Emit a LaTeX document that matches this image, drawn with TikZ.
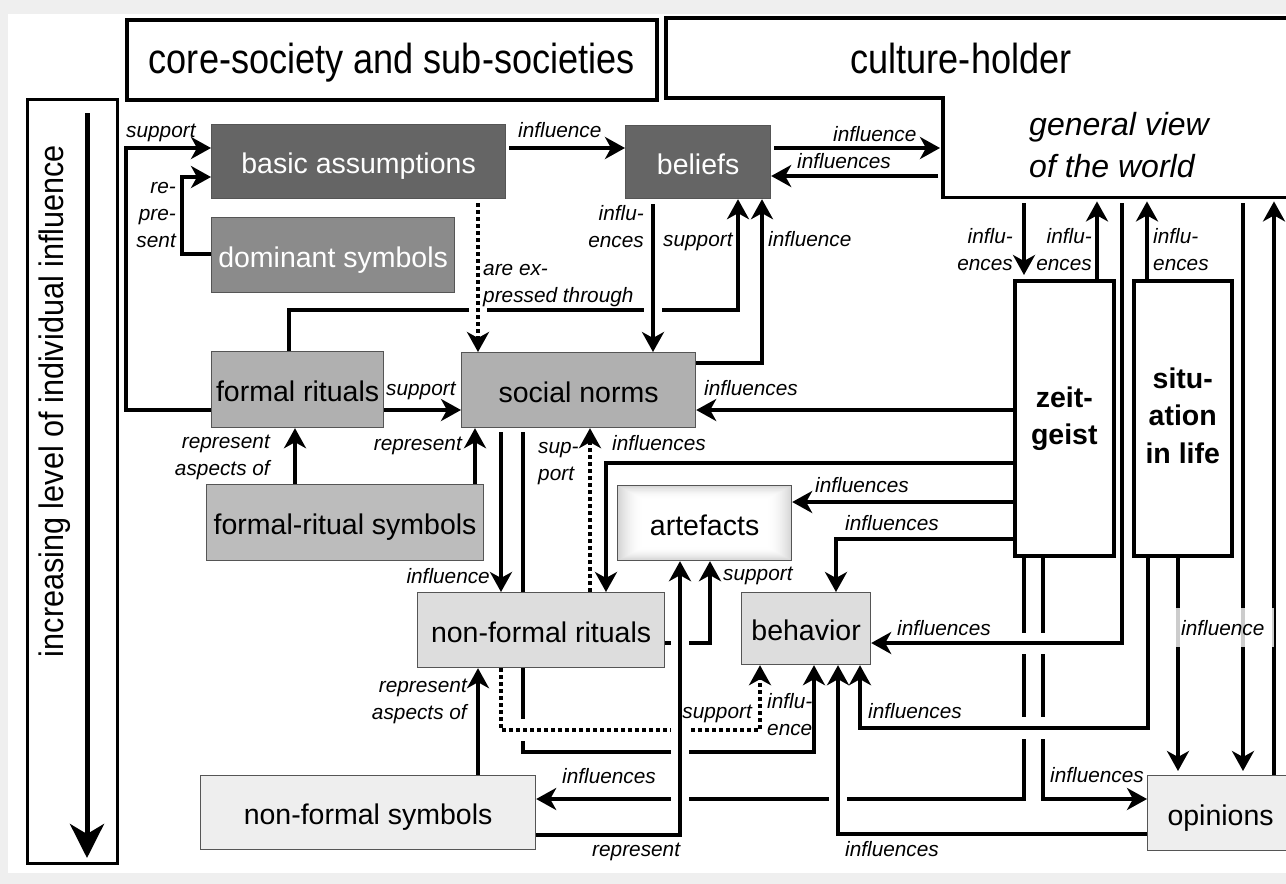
\documentclass[tikz,border=0pt]{standalone}
\usepackage{fontspec}
\usepackage{graphicx}
\setmainfont{Liberation Sans}
\usetikzlibrary{arrows.meta}
\definecolor{bgrey}{HTML}{EFEFEF}
\definecolor{dark}{HTML}{656565}
\definecolor{mid}{HTML}{8B8B8B}
\definecolor{lgt}{HTML}{B0B0B0}
\definecolor{lgt2}{HTML}{BCBCBC}
\definecolor{pale}{HTML}{DDDDDD}
\definecolor{paler}{HTML}{EEEEEE}
\definecolor{rim}{HTML}{555555}
\pgfdeclarelayer{bg}
\pgfdeclarelayer{conn}
\pgfsetlayers{bg,conn,main}
\begin{document}
\begin{tikzpicture}[x=1pt,y=-1pt,
  box/.style={draw=rim, line width=1.2pt, inner sep=0pt, anchor=north west,
    text height=24pt, text depth=0pt, font=\fontsize{28.5}{34}\selectfont},
  frame/.style={draw=black, line width=3.5pt, fill=white, inner sep=0pt, anchor=north west},
  lab/.style={inner sep=0pt, font=\fontsize{20.8}{27}\selectfont\itshape},
  ln/.style={line width=3.6pt},
  arr/.style={ln, -{Stealth[length=20pt,width=22pt,inset=6pt]}},
  darr/.style={arr, dash pattern=on 4pt off 3pt},
  bridge/.style={white, line width=7pt},
  glow/.style={path picture={
    \foreach \i in {0,...,26}{
      \pgfmathsetmacro\sh{17*(1-\i/26)^2}
      \fill[black!\sh] ([shift={(\i pt,-0.55*\i pt)}]path picture bounding box.north west)
        rectangle ([shift={(-\i pt,0.55*\i pt)}]path picture bounding box.south east);}}}
]
\useasboundingbox (0,0) rectangle (1286,884);

\begin{pgfonlayer}{bg}
  \fill[bgrey] (0,0) rectangle (1286,884);
  \fill[white] (8,14) rectangle (1286,873);
\end{pgfonlayer}

% ---------- headers ----------
\node[frame, minimum width=530pt, minimum height=80pt] (h1) at (125,18) {};
\node[anchor=base, inner sep=0pt, font=\fontsize{42}{46}\selectfont] (h1t) at (h1.center |- 0,73)
  {\scalebox{0.86}[1]{core-society and sub-societies}};
\node[inner sep=0pt, minimum width=347pt, minimum height=99pt, anchor=north west] (gv) at (943,98) {};
\draw[line width=3.5pt] (1290,18) -- (666,18) -- (666,98) -- (gv.north west) -- (gv.south west) -- (gv.south east);
\node[anchor=base, inner sep=0pt, font=\fontsize{42}{46}\selectfont] (h2t) at (961,73)
  {\scalebox{0.86}[1]{culture-holder}};
\node[anchor=north west, align=left, inner sep=0pt, font=\fontsize{32}{42}\selectfont\itshape] (gvt) at (1029,105.6)
  {\strut general view\\\strut of the world};

% ---------- level of influence ----------
\node[draw, line width=3pt, minimum width=90pt, minimum height=764pt, anchor=north west, inner sep=0pt] (lvl) at (26,98) {};
\coordinate (la) at (87,113);
\coordinate (lb) at (87,858);
\draw[line width=5pt, -{Stealth[length=34pt,width=34pt,inset=10pt]}] (la) -- (lb);
\node[rotate=90, anchor=base, inner sep=0pt, font=\fontsize{34}{38}\selectfont] (lvlt) at (63,401)
  {\scalebox{0.9}[1]{increasing level of individual influence}};

% ---------- boxes ----------
\node[box, fill=dark, text=white, minimum width=294pt, minimum height=74pt] (ba) at (211,124) {basic assumptions};
\node[box, fill=mid, text=white, minimum width=243pt, minimum height=75pt] (ds) at (211,217) {dominant symbols};
\node[box, fill=dark, text=white, minimum width=145pt, minimum height=73pt] (be) at (625,125) {beliefs};
\node[box, fill=lgt, minimum width=172pt, minimum height=76pt] (fr) at (211,351) {formal rituals};
\node[box, fill=lgt, minimum width=234pt, minimum height=75pt] (sn) at (461,352) {social norms};
\node[box, fill=lgt2, minimum width=277pt, minimum height=76pt] (frs) at (206,484) {formal-ritual symbols};
\node[box, fill=white, glow, minimum width=174pt, minimum height=75pt] (ar) at (617,485) {artefacts};
\node[box, fill=pale, minimum width=247pt, minimum height=75pt] (nfr) at (417,592) {non-formal rituals};
\node[box, fill=pale, minimum width=129pt, minimum height=72pt] (bh) at (741,592) {behavior};
\node[box, fill=paler, minimum width=335pt, minimum height=74pt] (nfs) at (200,775) {non-formal symbols};
\node[box, fill=paler, minimum width=146pt, minimum height=75pt] (op) at (1147,775) {opinions};
\node[frame, minimum width=99pt, minimum height=275pt, align=center,
  font=\fontsize{28.5}{37}\selectfont\bfseries] (zg) at (1013,279) {\strut zeit-\\\strut geist};
\node[frame, minimum width=98pt, minimum height=275pt, align=center,
  font=\fontsize{28.5}{37.5}\selectfont\bfseries] (sl) at (1132,279) {\strut situ-\\\strut ation\\\strut in life};

% ---------- connectors ----------
\begin{pgfonlayer}{conn}
  % lines that are crossed by others
  \draw[arr] (fr.north -| 289,0) -- (289,310) -| (be.south -| 738,0);
  \draw[bridge] (469,310) -- (487,310) (644,310) -- (662,310);
  \draw[darr, shorten <=4pt] (ba.south -| 478,0) -- (sn.north -| 478,0);
  \draw[arr, shorten <=5pt] (be.south -| 653,0) -- (sn.north -| 653,0);

  \draw[arr, shorten <=4pt] (sn.south -| 523,0) -- (523,752) -| (bh.south -| 814,0);
  \draw[bridge] (523,719) -- (523,741);
  \draw[darr] (nfr.south -| 501,0) -- (501,730) -| (bh.south -| 760,0);
  \draw[arr] (nfr.east |- 0,643) -| (ar.south -| 710,0);
  \draw[arr] (zg.south -| 1024,0) |- (nfs.east |- 0,799);
  \draw[arr] (zg.south -| 1043,0) |- (op.west |- 0,799);
  \draw[bridge] (671,643) -- (689,643) (671,730) -- (689,730) (671,752) -- (689,752)
    (671,799) -- (689,799) (829,799) -- (847,799)
    (1024,633) -- (1024,654) (1043,633) -- (1043,654)
    (1024,717) -- (1024,739) (1043,717) -- (1043,739);

  % lines passing over the gaps
  \draw[arr] (nfs.east |- 0,835) -| (ar.south -| 680,0);
  \draw[arr] (op.west |- 0,834) -| (bh.south -| 838,0);
  \draw[arr, shorten <=6pt] (gv.south -| 1122,0) |- (bh.east |- 0,643);
  \draw[arr] (sl.south -| 1148,0) |- (860,728) -- (bh.south -| 860,0);

  % remaining connectors
  \draw[arr] (fr.west |- 0,410) -- (126,410) |- (ba.west |- 0,148);
  \draw[arr] (ds.west |- 0,254) -- (182,254) |- (ba.west |- 0,177);
  \draw[arr, shorten <=3pt] (ba.east |- 0,148) -- (be.west |- 0,148);
  \draw[arr, shorten <=3pt, shorten >=3pt] (be.east |- 0,148) -- (gv.west |- 0,148);
  \draw[arr, shorten <=5pt] (gv.west |- 0,176) -- (be.east |- 0,176);
  \draw[arr] (sn.east |- 0,363) -| (be.south -| 762,0);
  \draw[arr] (zg.west |- 0,410) -- (sn.east |- 0,410);
  \draw[arr] (fr.east |- 0,410) -- (sn.west |- 0,410);
  \draw[arr] (frs.north -| 295,0) -- (fr.south -| 295,0);
  \draw[arr] (frs.north -| 475,0) -- (sn.south -| 475,0);
  \draw[arr, shorten <=4pt] (sn.south -| 501,0) -- (nfr.north -| 501,0);
  \draw[darr] (nfr.north -| 590,0) -- (sn.south -| 590,0);
  \draw[arr] (zg.west |- 0,463) -| (nfr.north -| 606,0);
  \draw[arr] (zg.west |- 0,502) -- (ar.east |- 0,502);
  \draw[arr] (zg.west |- 0,539) -| (bh.north -| 836,0);
  \draw[arr] (nfs.north -| 478,0) -- (nfr.south -| 478,0);
  \draw[arr, shorten <=6pt, shorten >=4pt] (gv.south -| 1024,0) -- (zg.north -| 1024,0);
  \draw[arr, shorten >=4pt] (zg.north -| 1097,0) -- (gv.south -| 1097,0);
  \draw[arr, shorten >=4pt] (sl.north -| 1147,0) -- (gv.south -| 1147,0);
  \draw[arr, shorten >=4pt] (sl.south -| 1178,0) -- (op.north -| 1178,0);
  \draw[arr, shorten <=6pt, shorten >=4pt] (gv.south -| 1243,0) -- (op.north -| 1243,0);
  \draw[arr, shorten >=4pt] (op.north -| 1274,0) -- (gv.south -| 1274,0);
\end{pgfonlayer}

% ---------- labels ----------
\node[lab, anchor=base west] (t1) at (126,137) {support};
\node[lab, anchor=north east, align=right] (t2) at (176,174.1) {\strut re-\\\strut pre-\\\strut sent};
\node[lab, anchor=base west] (t3) at (518,137) {influence};
\node[lab, anchor=base west] (t4) at (833,141) {influence};
\node[lab, anchor=base west] (t5) at (797,168) {influences};
\node[lab, anchor=north east, align=right] (t6) at (644,201.1) {\strut influ-\\\strut ences};
\node[lab, anchor=base west] (t7) at (663,246) {support};
\node[lab, anchor=base west] (t8) at (768,246) {influence};
\node[lab, anchor=north west, align=left] (t9) at (483,256.1) {\strut are ex-\\\strut pressed through};
\node[lab, anchor=base west] (t10) at (386,395) {support};
\node[lab, anchor=north east, align=right] (t11) at (270,429.1) {\strut represent\\\strut aspects of};
\node[lab, anchor=base east] (t12) at (462,450) {represent};
\node[lab, anchor=base east] (t13) at (490,583) {influence};
\node[lab, anchor=base west] (t14) at (704,395) {influences};
\node[lab, anchor=north west, align=left] (t15) at (538,434.1) {\strut sup-\\\strut port};
\node[lab, anchor=base west] (t16) at (612,450) {influences};
\node[lab, anchor=base west] (t17) at (815,492) {influences};
\node[lab, anchor=base west] (t18) at (845,530) {influences};
\node[lab, anchor=base west] (t19) at (723,580) {support};
\node[lab, anchor=north east, align=right] (t20) at (1013,224.1) {\strut influ-\\\strut ences};
\node[lab, anchor=north east, align=right] (t21) at (1092,224.1) {\strut influ-\\\strut ences};
\node[lab, anchor=north west, align=left] (t22) at (1153,224.1) {\strut influ-\\\strut ences};
\node[lab, anchor=north east, align=right] (t23) at (467,673.1) {\strut represent\\\strut aspects of};
\node[lab, anchor=base east] (t24) at (752,718) {support};
\node[lab, anchor=north west, align=left] (t25) at (767,689.1) {\strut influ-\\\strut ence};
\node[lab, anchor=base west] (t26) at (868,718) {influences};
\node[lab, anchor=base west] (t27) at (897,635) {influences};
\node[lab, anchor=base west] (t28) at (562,783) {influences};
\node[lab, anchor=base west] (t29) at (592,856) {represent};
\node[lab, anchor=base west] (t30) at (845,856) {influences};
\node[lab, anchor=base west] (t31) at (1050,782) {influences};
\node[lab, anchor=base west, fill=white, fill opacity=0.8, text opacity=1,
  inner xsep=10pt, inner ysep=12pt] (t32) at (1171,635) {influence};
\end{tikzpicture}
\end{document}
